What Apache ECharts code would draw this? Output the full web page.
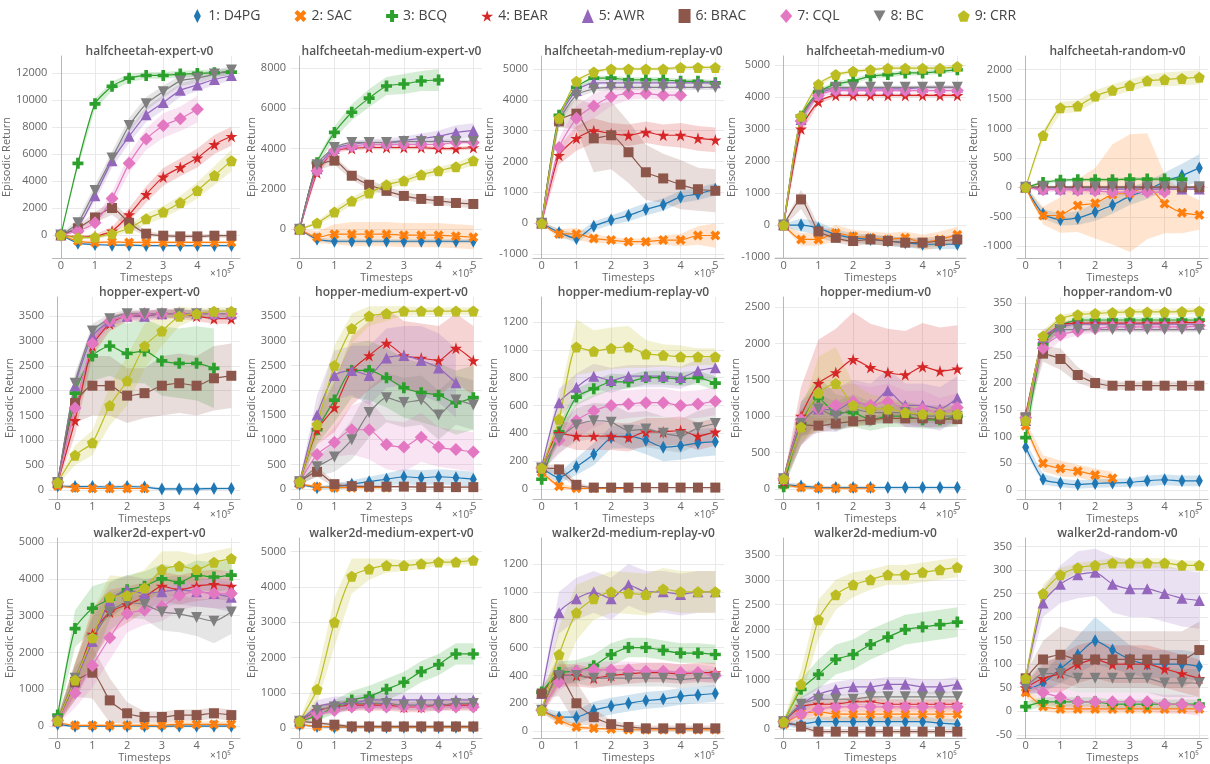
<!DOCTYPE html>
<html>
<head>
<meta charset="utf-8">
<title>Offline RL benchmark</title>
<script src="https://cdn.jsdelivr.net/npm/echarts@6/dist/echarts.min.js"></script>
<style>
  html, body { margin: 0; padding: 0; background: #fff; }
  #chart { width: 1210px; height: 764px; }
</style>
</head>
<body>
<div id="chart"></div>
<script>
// Evaluation timesteps (units of 1e5)
const timesteps = [0, 0.5, 1, 1.5, 2, 2.5, 3, 3.5, 4, 4.5, 5];
const xTickValues = [0, 1, 2, 3, 4, 5];

const methods = ['1: D4PG', '2: SAC', '3: BCQ', '4: BEAR', '5: AWR', '6: BRAC', '7: CQL', '8: BC', '9: CRR'];
const methodColors = ['#1f77b4', '#ff7f0e', '#2ca02c', '#d62728', '#9467bd', '#8c564b', '#e377c2', '#7f7f7f', '#bcbd22'];

const panelTitles = [
  'halfcheetah-expert-v0', 'halfcheetah-medium-expert-v0', 'halfcheetah-medium-replay-v0', 'halfcheetah-medium-v0', 'halfcheetah-random-v0',
  'hopper-expert-v0', 'hopper-medium-expert-v0', 'hopper-medium-replay-v0', 'hopper-medium-v0', 'hopper-random-v0',
  'walker2d-expert-v0', 'walker2d-medium-expert-v0', 'walker2d-medium-replay-v0', 'walker2d-medium-v0', 'walker2d-random-v0'
];
const yMinList = [-1700, -1430, -1130, -1030, -1200, -182, -200, -72, -138, -17, -324, -280, -50, -180, -57];
const yMaxList = [13240, 8590, 5420, 5280, 2230, 3887, 3885, 1379, 2638, 361, 5108, 5380, 1386, 3840, 368];
const yStepList = [2000, 2000, 1000, 1000, 500, 500, 500, 200, 500, 50, 1000, 1000, 200, 500, 50];

// Mean episodic return per method (order: D4PG, SAC, BCQ, BEAR, AWR, BRAC, CQL, BC, CRR)
const halfcheetahExpertMean = [
  [0, -600, -700, -750, -750, -780, -780, -780, -780, -780, -780],
  [0, -450, -550, -500, -550, -550, -550, -550, -550, -550, -550],
  [0, 5300, 9700, 11000, 11600, 11800, 11800, 11900, 11950, 12000, 12050],
  [0, -150, -100, 300, 1500, 3000, 4300, 5000, 5700, 6700, 7300],
  [0, 600, 2900, 5500, 7300, 8900, 9800, 10700, 11100, 11500, 11800],
  [0, 500, 1300, 2000, 900, 100, -50, -100, -100, -50, -50],
  [0, 300, 900, 2700, 5300, 7100, 8100, 8600, 9300, null, null],
  [0, 900, 3300, 5700, 8100, 9700, 10600, 11400, 11600, 11900, 12200],
  [0, -200, -150, 100, 500, 1200, 1700, 2400, 3300, 4400, 5500]
];
const halfcheetahExpertSpread = [
  [50, 80, 80, 80, 80, 80, 80, 80, 80, 80, 80],
  [50, 100, 100, 100, 100, 100, 100, 100, 100, 100, 100],
  [50, 300, 400, 350, 300, 250, 250, 250, 250, 250, 250],
  [50, 100, 150, 300, 500, 600, 650, 650, 700, 700, 700],
  [50, 200, 400, 500, 500, 550, 550, 500, 450, 400, 350],
  [50, 200, 400, 500, 400, 200, 150, 150, 150, 150, 150],
  [50, 200, 300, 500, 700, 800, 900, 900, 1000, null, null],
  [50, 300, 400, 500, 550, 500, 450, 400, 350, 300, 300],
  [50, 100, 150, 200, 300, 400, 450, 500, 600, 700, 800]
];

const halfcheetahMediumExpertMean = [
  [0, -500, -600, -600, -600, -600, -600, -600, -600, -600, -600],
  [0, -400, -250, -250, -250, -250, -300, -300, -300, -350, -400],
  [0, 3300, 4800, 5800, 6500, 7100, 7200, 7350, 7400, null, null],
  [0, 2800, 3900, 4000, 4050, 4050, 4050, 4050, 4000, 4000, 4050],
  [0, 3000, 4000, 4200, 4300, 4300, 4400, 4500, 4600, 4800, 4900],
  [0, 3100, 3400, 2650, 2200, 1900, 1650, 1500, 1400, 1300, 1250],
  [0, 2900, 3900, 4100, 4200, 4200, 4200, 4200, 4200, 4300, 4300],
  [0, 3200, 4050, 4300, 4300, 4300, 4350, 4350, 4350, 4350, 4350],
  [0, 300, 850, 1400, 1800, 2200, 2400, 2700, 2900, 3100, 3400]
];
const halfcheetahMediumExpertSpread = [
  [50, 100, 100, 100, 100, 100, 100, 100, 100, 100, 100],
  [50, 300, 500, 600, 600, 600, 600, 600, 600, 600, 600],
  [50, 200, 300, 400, 450, 450, 500, 500, 550, null, null],
  [50, 150, 100, 100, 100, 100, 100, 100, 100, 100, 100],
  [50, 150, 150, 150, 150, 200, 200, 250, 300, 350, 350],
  [50, 200, 200, 200, 250, 200, 200, 200, 200, 200, 200],
  [50, 150, 100, 100, 100, 100, 100, 100, 100, 100, 100],
  [50, 150, 100, 100, 100, 100, 100, 100, 100, 100, 100],
  [50, 100, 200, 200, 200, 200, 200, 200, 200, 200, 250]
];

const halfcheetahMediumReplayMean = [
  [0, -300, -500, -100, 100, 250, 450, 600, 850, 950, 1100],
  [0, -350, -350, -500, -550, -600, -600, -550, -550, -400, -400],
  [0, 3500, 4400, 4700, 4700, 4650, 4650, 4650, 4600, 4600, 4550],
  [0, 2200, 2750, 3000, 2900, 2850, 2950, 2850, 2850, 2750, 2700],
  [0, 3400, 4300, 4550, 4550, 4550, 4550, 4550, 4550, 4550, 4550],
  [0, 3300, 3550, 2750, 2850, 2300, 1650, 1450, 1250, 1100, 1050],
  [0, 2450, 3400, 3800, 4100, 4200, 4200, 4150, 4150, null, null],
  [0, 3300, 4150, 4350, 4400, 4400, 4400, 4400, 4400, 4400, 4400],
  [0, 3400, 4600, 4900, 5000, 5000, 5000, 5000, 5050, 5050, 5050]
];
const halfcheetahMediumReplaySpread = [
  [50, 100, 150, 150, 150, 200, 200, 200, 200, 200, 200],
  [50, 150, 200, 150, 100, 100, 100, 150, 200, 300, 400],
  [50, 100, 100, 80, 80, 80, 80, 80, 80, 80, 80],
  [50, 300, 400, 400, 350, 350, 350, 350, 400, 400, 400],
  [50, 100, 100, 80, 80, 80, 80, 80, 80, 80, 80],
  [50, 200, 500, 1100, 1100, 1000, 900, 800, 800, 700, 700],
  [50, 300, 400, 400, 300, 200, 150, 150, 150, null, null],
  [50, 100, 100, 80, 80, 80, 80, 80, 80, 80, 80],
  [50, 100, 80, 50, 50, 50, 50, 50, 50, 50, 50]
];

const halfcheetahMediumMean = [
  [0, 0, -100, -300, -400, -450, -500, -550, -600, -600, -600],
  [0, -450, -450, -250, -350, -400, -450, -400, -550, -450, -300],
  [0, 3400, 4150, 4400, 4500, 4650, 4700, 4750, 4750, 4800, 4850],
  [0, 3000, 3850, 4050, 4050, 4050, 4050, 4050, 4050, 4050, 4050],
  [0, 3300, 4100, 4250, 4250, 4250, 4250, 4250, 4300, 4300, 4300],
  [0, 800, -200, -400, -500, -450, -500, -550, -550, -500, -450],
  [0, 3250, 4050, 4200, 4200, 4200, 4200, 4200, 4200, 4200, 4200],
  [0, 3300, 4150, 4300, 4300, 4300, 4300, 4300, 4300, 4300, 4300],
  [0, 3400, 4400, 4700, 4800, 4850, 4900, 4900, 4900, 4900, 4950]
];
const halfcheetahMediumSpread = [
  [50, 200, 200, 150, 150, 150, 150, 150, 150, 150, 150],
  [50, 200, 200, 250, 200, 200, 200, 200, 250, 250, 250],
  [50, 150, 100, 100, 80, 80, 80, 80, 80, 80, 80],
  [50, 150, 80, 60, 60, 60, 60, 60, 60, 60, 60],
  [50, 150, 80, 60, 60, 60, 60, 60, 60, 60, 60],
  [50, 300, 200, 150, 150, 150, 150, 150, 150, 150, 150],
  [50, 150, 80, 60, 60, 60, 60, 60, 60, 60, 60],
  [50, 150, 80, 60, 60, 60, 60, 60, 60, 60, 60],
  [50, 150, 80, 60, 60, 60, 60, 60, 60, 60, 60]
];

const halfcheetahRandomMean = [
  [0, -450, -550, -520, -420, -300, -150, -50, 100, 200, 330],
  [0, -480, -470, -310, -270, -120, -100, 20, -280, -430, -470],
  [0, 80, 120, 130, 130, 130, 140, 140, 140, 140, null],
  [0, 0, 0, 0, 0, 0, 0, 0, 0, 0, 0],
  [0, -30, -30, -30, -30, -30, -30, -30, -30, -30, -30],
  [0, 0, 0, 0, 0, 0, 0, 0, 0, 0, 0],
  [0, -40, -40, -50, -60, -80, -80, -80, -80, null, null],
  [0, 10, 10, 10, 10, 10, 10, 10, 10, 10, 10],
  [0, 880, 1350, 1380, 1550, 1650, 1730, 1810, 1830, 1850, 1870]
];
const halfcheetahRandomSpread = [
  [20, 80, 100, 120, 150, 150, 150, 150, 150, 200, 230],
  [20, 150, 300, 450, 600, 850, 1000, 900, 500, 350, 250],
  [20, 30, 30, 30, 30, 30, 30, 30, 30, 30, null],
  [20, 20, 20, 20, 20, 20, 20, 20, 20, 20, 20],
  [20, 20, 20, 20, 20, 20, 20, 20, 20, 20, 20],
  [20, 20, 20, 20, 20, 20, 20, 20, 20, 20, 20],
  [20, 40, 40, 50, 60, 60, 60, 60, 60, null, null],
  [20, 20, 20, 20, 20, 20, 20, 20, 20, 20, 20],
  [20, 80, 100, 100, 100, 100, 100, 100, 120, 120, 120]
];

const hopperExpertMean = [
  [80, 70, 70, 60, 70, 60, 20, 20, 20, 30, 30],
  [80, 40, 30, 30, 30, 30, null, null, null, null, null],
  [150, 1950, 2700, 2900, 2750, 2800, 2600, 2550, 2550, 2450, null],
  [150, 1400, 2900, 3350, 3500, 3500, 3550, 3550, 3500, 3450, 3450],
  [150, 2100, 3100, 3400, 3500, 3500, 3550, 3550, 3550, 3550, 3550],
  [150, 1750, 2100, 2100, 1900, 1950, 2100, 2150, 2100, 2250, 2300],
  [150, 1650, 2950, 3400, 3500, 3550, 3550, 3550, 3550, 3550, 3550],
  [150, 2150, 3200, 3450, 3550, 3550, 3550, 3550, 3550, 3550, 3550],
  [150, 700, 950, 1700, 2200, 2900, 3200, 3500, 3550, 3600, 3600]
];
const hopperExpertSpread = [
  [30, 30, 30, 30, 30, 30, 30, 30, 30, 30, 30],
  [30, 20, 20, 20, 20, 20, null, null, null, null, null],
  [50, 300, 500, 600, 600, 650, 700, 700, 750, 800, null],
  [50, 300, 200, 150, 100, 100, 100, 100, 100, 100, 100],
  [50, 200, 150, 100, 80, 80, 80, 80, 80, 80, 80],
  [50, 400, 600, 600, 550, 500, 600, 600, 600, 650, 650],
  [50, 300, 150, 100, 80, 80, 80, 80, 80, 80, 80],
  [50, 200, 150, 100, 80, 80, 80, 80, 80, 80, 80],
  [50, 200, 250, 400, 500, 450, 300, 200, 100, 80, 80]
];

const hopperMediumExpertMean = [
  [100, 30, 50, 100, 150, 200, 250, 230, 250, 230, 200],
  [100, 50, 30, 30, 30, 30, null, null, null, null, null],
  [150, 1200, 1800, 2400, 2400, 2250, 2050, 1950, 1900, 1750, 1850],
  [150, 1200, 1650, 2400, 2700, 2950, 2700, 2650, 2600, 2850, 2600],
  [150, 1500, 2300, 2400, 2300, 2650, 2700, 2600, 2450, 2150, null],
  [150, 350, 100, 60, 50, 50, 50, 40, 40, 40, 40],
  [150, 700, 950, 1200, 1200, 900, 850, 1050, 850, 800, 750],
  [150, 450, 650, 1000, 1550, 1850, 1750, 1800, 1500, 1800, 1700],
  [150, 1300, 2500, 3250, 3500, 3550, 3600, 3600, 3600, 3600, 3600]
];
const hopperMediumExpertSpread = [
  [30, 30, 60, 80, 100, 120, 150, 150, 150, 150, 150],
  [30, 20, 20, 20, 20, 20, null, null, null, null, null],
  [50, 300, 450, 550, 600, 600, 600, 600, 650, 650, 650],
  [50, 300, 500, 700, 700, 700, 700, 700, 700, 700, 700],
  [50, 400, 500, 500, 600, 600, 600, 700, 700, 700, null],
  [50, 100, 60, 40, 30, 30, 30, 30, 30, 30, 30],
  [50, 200, 300, 500, 600, 500, 500, 500, 400, 400, 400],
  [50, 200, 300, 400, 500, 500, 500, 500, 500, 500, 500],
  [50, 300, 400, 300, 200, 150, 100, 80, 80, 80, 80]
];

const hopperMediumReplayMean = [
  [150, 80, 160, 250, 370, 380, 350, 300, 310, 330, 340],
  [120, 20, 5, 5, 5, 5, null, null, null, null, null],
  [70, 410, 660, 720, 770, 770, 800, 800, 790, 800, 760],
  [150, 400, 380, 380, 380, 370, 410, 410, 420, 380, 410],
  [160, 620, 730, 810, 780, 810, 810, 810, 800, 850, 870],
  [150, 140, 30, 10, 10, 10, 10, 10, 10, 10, 10],
  [150, 350, 490, 560, 600, 610, 620, 620, 600, 610, 630],
  [150, 360, 460, 490, 480, 420, 430, 400, 380, 440, 470],
  [150, 500, 1020, 990, 1010, 1020, 970, 960, 950, 950, 950]
];
const hopperMediumReplaySpread = [
  [20, 40, 60, 80, 80, 90, 100, 100, 100, 100, 100],
  [20, 20, 10, 5, 5, 5, null, null, null, null, null],
  [20, 60, 60, 60, 60, 50, 50, 50, 50, 50, 50],
  [20, 80, 100, 100, 100, 100, 100, 100, 100, 100, 100],
  [20, 100, 100, 90, 90, 80, 80, 80, 80, 80, 80],
  [20, 40, 20, 5, 5, 5, 5, 5, 5, 5, 5],
  [20, 100, 120, 120, 110, 100, 100, 100, 100, 100, 100],
  [20, 100, 120, 130, 130, 130, 130, 120, 120, 120, 120],
  [20, 150, 200, 150, 150, 150, 100, 80, 80, 60, 60]
];

const hopperMediumMean = [
  [60, 40, 20, 20, 20, 20, 20, 20, 20, 20, 20],
  [60, 20, 10, 10, 10, 10, null, null, null, null, null],
  [30, 900, 1250, 1050, 1050, 950, 1000, 1000, 950, 950, 1000],
  [100, 1000, 1450, 1600, 1780, 1670, 1600, 1570, 1680, 1620, 1650],
  [140, 900, 1100, 1080, 1200, 1150, 1350, 1150, 1150, 1100, 1250],
  [140, 880, 870, 900, 930, 950, 970, 970, 970, 960, 960],
  [140, 950, 1100, 1150, 1200, 1150, 1200, 1100, 1100, 1050, 1120],
  [140, 900, 1100, 1000, 1100, 1050, 1050, 1050, 1000, 1000, 1000],
  [140, 850, 1320, 1450, 1150, 1100, 1100, 1050, 1030, 1030, 1030]
];
const hopperMediumSpread = [
  [30, 30, 20, 20, 20, 20, 20, 20, 20, 20, 20],
  [30, 20, 20, 20, 20, 20, null, null, null, null, null],
  [30, 300, 300, 250, 200, 150, 150, 150, 120, 120, 120],
  [50, 400, 600, 600, 650, 600, 600, 600, 600, 600, 600],
  [50, 300, 300, 300, 300, 300, 300, 300, 300, 300, 300],
  [50, 150, 100, 80, 80, 60, 60, 60, 60, 60, 60],
  [50, 200, 250, 250, 250, 250, 250, 250, 250, 200, 200],
  [50, 200, 200, 200, 200, 150, 150, 150, 150, 150, 150],
  [50, 200, 500, 500, 300, 200, 150, 150, 100, 100, 100]
];

const hopperRandomMean = [
  [80, 20, 13, 10, 12, 13, 14, 17, 19, 17, 17],
  [120, 50, 40, 35, 28, 22, null, null, null, null, null],
  [98, 272, 307, 318, 318, 318, 318, 318, 318, 318, 318],
  [140, 280, 308, 312, 312, 312, 312, 312, 312, 313, 313],
  [130, 285, 305, 310, 310, 310, 310, 310, 310, 310, 310],
  [135, 255, 245, 215, 200, 195, 195, 195, 195, 195, 195],
  [135, 265, 290, 297, 302, 305, 305, 305, 305, 305, 307],
  [135, 280, 300, 300, 300, 300, 300, 300, 300, 300, 300],
  [130, 288, 320, 328, 330, 332, 333, 333, 333, 334, 335]
];
const hopperRandomSpread = [
  [10, 10, 8, 8, 8, 8, 8, 10, 10, 10, 10],
  [10, 15, 15, 12, 12, 12, null, null, null, null, null],
  [10, 10, 5, 5, 5, 5, 5, 5, 5, 5, 5],
  [10, 15, 8, 5, 5, 5, 5, 5, 5, 5, 5],
  [10, 15, 8, 5, 5, 5, 5, 5, 5, 5, 5],
  [10, 15, 20, 15, 10, 8, 8, 8, 8, 8, 8],
  [10, 15, 10, 8, 8, 8, 8, 8, 8, 8, 8],
  [10, 15, 8, 5, 5, 5, 5, 5, 5, 5, 5],
  [10, 10, 8, 6, 6, 6, 6, 6, 6, 6, 6]
];

const walkerExpertMean = [
  [50, 0, 0, 0, 0, 0, 0, 0, 0, 0, 0],
  [100, 20, 20, 20, 20, 20, 30, 50, 50, 50, 50],
  [300, 2650, 3200, 3450, 3700, 3800, 4000, 3900, 4100, 4050, 4100],
  [150, 1200, 2500, 3100, 3300, 3500, 3800, 3700, 3800, 3850, 3800],
  [150, 1200, 2300, 3400, 3700, 3600, 3650, 3700, 3650, 3600, 3500],
  [150, 1200, 1450, 700, 350, 250, 250, 300, 300, 350, 300],
  [150, 900, 1650, 2400, 3050, 3150, 3250, 3550, 3650, 3600, 3600],
  [150, 1300, 2350, 3100, 3350, 3300, 3100, 3050, 2950, 2850, 3100],
  [150, 1250, 2400, 3500, 3550, 3750, 4250, 4350, 4250, 4450, 4550]
];
const walkerExpertSpread = [
  [30, 30, 30, 30, 30, 30, 30, 30, 30, 30, 30],
  [30, 30, 30, 30, 30, 50, 80, 80, 80, 80, 80],
  [100, 500, 600, 500, 400, 400, 400, 400, 400, 400, 400],
  [100, 500, 700, 600, 500, 400, 400, 400, 400, 400, 400],
  [100, 500, 700, 500, 400, 400, 400, 400, 400, 400, 400],
  [100, 400, 700, 600, 300, 150, 150, 150, 150, 150, 150],
  [100, 400, 600, 600, 500, 400, 400, 400, 400, 400, 400],
  [100, 400, 600, 500, 400, 400, 500, 500, 500, 600, 600],
  [100, 500, 700, 600, 500, 500, 500, 400, 400, 300, 300]
];

const walkerMediumExpertMean = [
  [100, 50, 30, 30, 30, 30, 30, 30, 30, 30, 30],
  [100, 50, 40, 30, 30, 30, 30, 30, 30, 30, 30],
  [200, 350, 600, 800, 900, 1100, 1300, 1600, 1800, 2100, 2100],
  [200, 500, 600, 650, 650, 650, 600, 600, 650, 650, 650],
  [200, 600, 700, 700, 800, 800, 800, 800, 800, 800, 800],
  [200, 150, 100, 50, 50, 50, 50, 50, 50, 50, 50],
  [200, 400, 500, 600, 600, 600, 600, 600, 600, 600, 600],
  [200, 500, 600, 700, 700, 700, 650, 650, 650, 700, 700],
  [200, 1100, 3000, 4300, 4500, 4600, 4600, 4650, 4700, 4700, 4750]
];
const walkerMediumExpertSpread = [
  [30, 30, 30, 30, 30, 30, 30, 30, 30, 30, 30],
  [30, 30, 30, 30, 30, 30, 30, 30, 30, 30, 30],
  [50, 150, 200, 250, 300, 300, 300, 300, 300, 300, 300],
  [50, 150, 150, 150, 150, 150, 150, 150, 150, 150, 150],
  [50, 200, 200, 200, 200, 200, 200, 200, 200, 200, 200],
  [50, 50, 50, 50, 50, 50, 50, 50, 50, 50, 50],
  [50, 100, 100, 100, 100, 100, 100, 100, 100, 100, 100],
  [50, 150, 150, 150, 150, 150, 150, 150, 150, 150, 150],
  [50, 400, 700, 500, 300, 200, 150, 150, 100, 100, 100]
];

const walkerMediumReplayMean = [
  [150, 100, 100, 150, 180, 200, 220, 230, 250, 260, 270],
  [150, 80, 30, 20, 15, 10, 10, 10, 10, 10, 10],
  [280, 420, 430, 470, 550, 600, 600, 580, 560, 560, 550],
  [150, 400, 400, 380, 400, 410, 420, 420, 410, 420, 420],
  [270, 850, 950, 1000, 950, 1050, 1000, 1000, 980, 1000, 1000],
  [270, 400, 200, 100, 50, 30, 20, 20, 20, 20, 20],
  [150, 350, 430, 440, 440, 440, 430, 430, 420, 420, 400],
  [150, 400, 400, 380, 380, 380, 380, 380, 370, 380, 380],
  [150, 550, 850, 950, 1000, 990, 980, 1020, 1000, 1000, 1000]
];
const walkerMediumReplaySpread = [
  [20, 40, 50, 60, 60, 60, 60, 60, 60, 60, 60],
  [20, 30, 20, 10, 10, 10, 10, 10, 10, 10, 10],
  [30, 80, 80, 80, 80, 70, 70, 70, 70, 70, 70],
  [30, 80, 80, 70, 70, 70, 70, 70, 70, 70, 70],
  [30, 150, 150, 150, 150, 150, 150, 150, 150, 150, 150],
  [30, 150, 150, 60, 30, 20, 20, 20, 20, 20, 20],
  [30, 60, 60, 60, 60, 60, 60, 60, 60, 60, 60],
  [30, 60, 60, 60, 60, 60, 60, 60, 60, 60, 60],
  [30, 200, 200, 150, 150, 150, 150, 150, 150, 150, 150]
];

const walkerMediumMean = [
  [100, 100, 150, 150, 150, 150, 150, 150, 150, 120, 100],
  [100, 300, 350, 300, 300, 300, 300, 300, 300, 300, 300],
  [150, 800, 1100, 1400, 1500, 1700, 1850, 2000, 2050, 2100, 2150],
  [150, 450, 500, 500, 550, 550, 500, 500, 500, 500, 500],
  [150, 500, 700, 800, 850, 850, 900, 900, 850, 850, 900],
  [150, 50, -50, -50, -50, -50, -50, -50, -50, -50, -50],
  [150, 300, 400, 450, 450, 450, 450, 450, 450, 450, 450],
  [150, 500, 600, 600, 600, 650, 650, 650, 650, 650, 650],
  [150, 900, 2200, 2700, 2900, 3000, 3100, 3100, 3150, 3200, 3250]
];
const walkerMediumSpread = [
  [30, 100, 100, 100, 100, 100, 100, 100, 100, 100, 100],
  [30, 100, 150, 150, 150, 150, 150, 150, 150, 150, 150],
  [50, 200, 300, 300, 300, 300, 300, 300, 300, 300, 300],
  [50, 100, 100, 100, 100, 100, 100, 100, 100, 100, 100],
  [50, 150, 150, 150, 150, 150, 150, 150, 150, 150, 150],
  [30, 50, 50, 50, 50, 50, 50, 50, 50, 50, 50],
  [50, 100, 100, 100, 100, 100, 100, 100, 100, 100, 100],
  [50, 100, 100, 100, 100, 100, 100, 100, 100, 100, 100],
  [50, 300, 400, 300, 250, 200, 200, 200, 200, 200, 200]
];

const walkerRandomMean = [
  [45, 60, 90, 120, 150, 130, 110, 100, 100, 100, 95],
  [40, 10, 5, 5, 5, 5, 5, 5, 5, 5, 5],
  [10, 20, 20, 20, 20, 15, 15, 15, 15, 15, 15],
  [50, 70, 80, 100, 110, 100, 100, 100, 90, 80, 70],
  [70, 230, 270, 290, 295, 270, 260, 260, 250, 240, 235],
  [70, 110, 120, 110, 110, 110, 110, 110, 110, 110, 130],
  [60, 40, 30, 20, 20, 20, 20, 20, 15, 15, 10],
  [50, 80, 80, 70, 70, 70, 70, 70, 60, 60, 60],
  [70, 250, 290, 305, 310, 315, 315, 315, 315, 310, 310]
];
const walkerRandomSpread = [
  [10, 20, 30, 40, 50, 40, 30, 30, 30, 30, 30],
  [10, 10, 10, 10, 10, 10, 10, 10, 10, 10, 10],
  [10, 10, 10, 10, 10, 10, 10, 10, 10, 10, 10],
  [10, 30, 40, 40, 40, 40, 40, 40, 40, 40, 40],
  [10, 30, 40, 50, 50, 60, 60, 60, 60, 60, 60],
  [10, 40, 60, 60, 60, 60, 60, 60, 60, 60, 60],
  [10, 20, 20, 20, 20, 20, 20, 20, 20, 20, 20],
  [10, 30, 30, 30, 30, 30, 30, 30, 30, 30, 30],
  [10, 20, 15, 10, 10, 10, 10, 10, 10, 10, 10]
];

const panelMeans = [
  halfcheetahExpertMean, halfcheetahMediumExpertMean, halfcheetahMediumReplayMean, halfcheetahMediumMean, halfcheetahRandomMean,
  hopperExpertMean, hopperMediumExpertMean, hopperMediumReplayMean, hopperMediumMean, hopperRandomMean,
  walkerExpertMean, walkerMediumExpertMean, walkerMediumReplayMean, walkerMediumMean, walkerRandomMean
];
const panelSpreads = [
  halfcheetahExpertSpread, halfcheetahMediumExpertSpread, halfcheetahMediumReplaySpread, halfcheetahMediumSpread, halfcheetahRandomSpread,
  hopperExpertSpread, hopperMediumExpertSpread, hopperMediumReplaySpread, hopperMediumSpread, hopperRandomSpread,
  walkerExpertSpread, walkerMediumExpertSpread, walkerMediumReplaySpread, walkerMediumSpread, walkerRandomSpread
];

// Marker shapes per method
const markerShapes = [
  'path://M3,0L6,6L3,12L0,6Z',
  'path://M3,0L6,3L9,0L12,3L9,6L12,9L9,12L6,9L3,12L0,9L3,6L0,3Z',
  'path://M4,0H8V4H12V8H8V12H4V8H0V4H4Z',
  'path://M50,0L61,35L98,35L68,57L79,91L50,70L21,91L32,57L2,35L39,35Z',
  'triangle',
  'rect',
  'diamond',
  'path://M0,0L10,0L5,9Z',
  'path://M50,0L98,35L79,91L21,91L2,35Z'
];
const markerSizes = [[7, 13], 10, 11, 12, 11, 10, 13, 11, 11];

const FONT = '"Open Sans", "Liberation Sans", sans-serif';
const GRID_LEFT0 = 49, GRID_DX = 242, GRID_W = 191;
const GRID_TOP0 = 56, GRID_DY = 241, GRID_H = 202;

const grids = [], xAxes = [], yAxes = [], titles = [], series = [], graphics = [];

panelTitles.forEach((title, p) => {
  const col = p % 5, row = Math.floor(p / 5);
  const left = GRID_LEFT0 + col * GRID_DX;
  const top = GRID_TOP0 + row * GRID_DY;
  grids.push({ left, top, width: GRID_W, height: GRID_H });

  const step = yStepList[p];
  const yTicks = [];
  for (let v = Math.ceil(yMinList[p] / step) * step; v <= yMaxList[p]; v += step) yTicks.push(v);
  const maxChars = Math.max(...yTicks.map(v => String(v).length));

  xAxes.push({
    gridIndex: p, type: 'value', min: -0.25, max: 5.25,
    axisLine: { show: true, onZero: false, lineStyle: { color: '#b8b8b8' } },
    axisTick: { show: false, customValues: xTickValues },
    axisLabel: { customValues: xTickValues, formatter: v => String(v), color: '#666', fontSize: 11, margin: 2, fontFamily: FONT },
    splitLine: { show: true, lineStyle: { color: '#e9e9e9' } },
    name: 'Timesteps', nameLocation: 'middle', nameGap: 11,
    nameTextStyle: { color: '#666', fontSize: 11, fontFamily: FONT }
  });
  yAxes.push({
    gridIndex: p, type: 'value', min: yMinList[p], max: yMaxList[p],
    axisLine: { show: true, lineStyle: { color: '#b8b8b8' } },
    axisTick: { show: false, customValues: yTicks },
    axisLabel: { customValues: yTicks, formatter: v => String(v), color: '#666', fontSize: 11, margin: 5, fontFamily: FONT },
    splitLine: { show: true, lineStyle: { color: '#e9e9e9' } },
    name: 'Episodic Return', nameLocation: 'middle', nameGap: Math.round(maxChars * 5 + 5),
    nameTextStyle: { color: '#666', fontSize: 11, fontFamily: FONT }
  });
  titles.push({
    text: title, left: left + GRID_W / 2, top: top - 15, textAlign: 'center',
    textStyle: { fontSize: 12, fontWeight: 600, color: '#555', fontFamily: FONT }
  });
  graphics.push({
    type: 'text', left: left + GRID_W - 30, top: top + GRID_H + 11,
    style: { text: '×10⁵', fill: '#666', font: '10px ' + FONT }
  });

  const means = panelMeans[p], spreads = panelSpreads[p];
  // shaded spread bands first, underneath all curves
  means.forEach((vals, m) => {
    const rows = [];
    timesteps.forEach((x, i) => {
      if (vals[i] != null) rows.push([x, vals[i] - spreads[m][i], vals[i] + spreads[m][i]]);
    });
    series.push({
      type: 'custom', name: methods[m] + ' band', xAxisIndex: p, yAxisIndex: p,
      clip: true, silent: true, z: 1,
      encode: { x: 0, y: [1, 2] },
      data: rows,
      renderItem: (params, api) => {
        if (params.dataIndexInside !== 0) return null;
        const n = params.dataInsideLength;
        const upper = [], lower = [];
        for (let i = 0; i < n; i++) {
          upper.push(api.coord([api.value(0, i), api.value(2, i)]));
          lower.push(api.coord([api.value(0, i), api.value(1, i)]));
        }
        return {
          type: 'polygon',
          shape: { points: upper.concat(lower.reverse()) },
          style: { fill: methodColors[m], opacity: 0.2 }
        };
      }
    });
  });
  means.forEach((vals, m) => {
    const rows = [];
    timesteps.forEach((x, i) => { if (vals[i] != null) rows.push([x, vals[i]]); });
    series.push({
      type: 'line', name: methods[m], xAxisIndex: p, yAxisIndex: p, z: 2,
      data: rows, smooth: 0.2,
      symbol: markerShapes[m], symbolSize: markerSizes[m], showAllSymbol: true,
      lineStyle: { width: 1.2, color: methodColors[m] },
      itemStyle: { color: methodColors[m] },
      emphasis: { disabled: true }
    });
  });
});

const chart = echarts.init(document.getElementById('chart'), null, { renderer: 'canvas' });
chart.setOption({
  backgroundColor: '#ffffff',
  animation: false,
  textStyle: { fontFamily: FONT },
  title: titles,
  legend: {
    top: 4, left: 'center', itemGap: 34, itemWidth: 12, itemHeight: 14,
    textStyle: { fontSize: 14, color: '#444', fontFamily: FONT },
    data: methods.map((name, i) => ({ name, icon: markerShapes[i], itemStyle: { color: methodColors[i] } }))
  },
  grid: grids,
  xAxis: xAxes,
  yAxis: yAxes,
  graphic: graphics,
  series
});
</script>
</body>
</html>
